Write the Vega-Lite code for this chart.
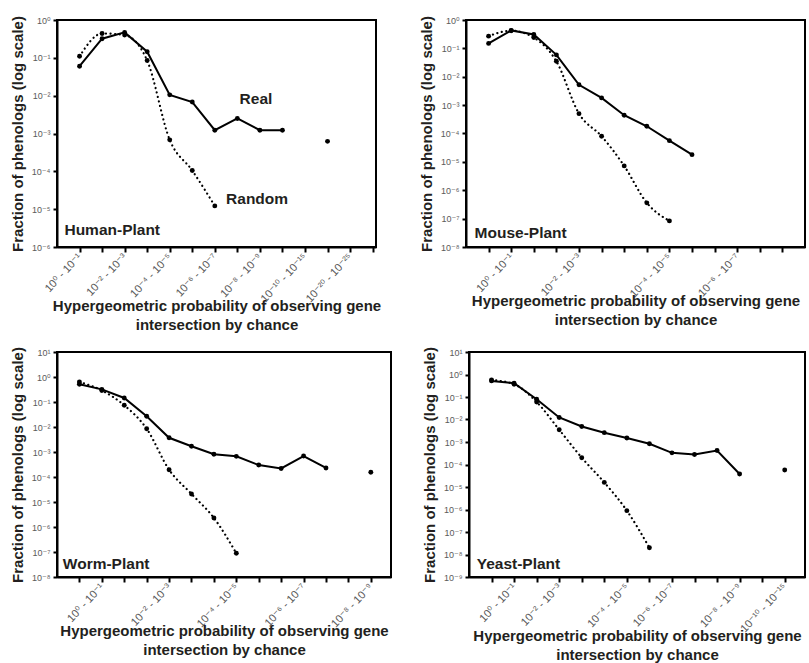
{
  "$schema": "https://vega.github.io/schema/vega-lite/v6.json",
  "background": "white",
  "padding": {"left": 9, "top": 14, "right": 5, "bottom": 3},
  "config": {
    "font": "Liberation Sans",
    "view": {"stroke": "black", "strokeWidth": 2},
    "axis": {
      "grid": false,
      "domainColor": "black",
      "domainWidth": 2,
      "tickColor": "black",
      "tickWidth": 2,
      "tickSize": 4,
      "labelFont": "Liberation Sans, DejaVu Sans",
      "labelFontSize": 9,
      "labelColor": "#5a5a5a",
      "labelPadding": 3,
      "labelOverlap": false,
      "labelFlush": false,
      "labelBound": false,
      "titleFont": "Liberation Sans",
      "titleFontSize": 15,
      "titleFontWeight": "bold",
      "titleColor": "#231f20"
    },
    "axisX": {"labelAngle": -47, "labelAlign": "right", "labelBaseline": "middle", "labelFontSize": 11, "labelPadding": 3, "titlePadding": -5, "titleLineHeight": 19, "tickSize": 5},
    "axisY": {"titlePadding": 6},
    "line": {"color": "black"},
    "point": {"color": "black", "filled": true, "opacity": 1, "size": 24},
    "text": {"color": "#231f20", "font": "Liberation Sans", "fontWeight": "bold", "fontSize": 15.5, "align": "left", "baseline": "middle"}
  },
  "datasets": {
    "human": [
      {"series": "Real", "seg": "a", "bin": 0, "frac": 0.06},
      {"series": "Real", "seg": "a", "bin": 1, "frac": 0.32},
      {"series": "Real", "seg": "a", "bin": 2, "frac": 0.47},
      {"series": "Real", "seg": "a", "bin": 3, "frac": 0.145},
      {"series": "Real", "seg": "a", "bin": 4, "frac": 0.0105},
      {"series": "Real", "seg": "a", "bin": 5, "frac": 0.0068},
      {"series": "Real", "seg": "a", "bin": 6, "frac": 0.00122},
      {"series": "Real", "seg": "a", "bin": 7, "frac": 0.0025},
      {"series": "Real", "seg": "a", "bin": 8, "frac": 0.00122},
      {"series": "Real", "seg": "a", "bin": 9, "frac": 0.00122},
      {"series": "Real", "seg": "b", "bin": 11, "frac": 0.00062},
      {"series": "Random", "seg": "r", "bin": 0, "frac": 0.11},
      {"series": "Random", "seg": "r", "bin": 1, "frac": 0.44},
      {"series": "Random", "seg": "r", "bin": 2, "frac": 0.40},
      {"series": "Random", "seg": "r", "bin": 3, "frac": 0.085},
      {"series": "Random", "seg": "r", "bin": 4, "frac": 0.00068},
      {"series": "Random", "seg": "r", "bin": 5, "frac": 0.000105},
      {"series": "Random", "seg": "r", "bin": 6, "frac": 0.0000122}
    ],
    "mouse": [
      {"series": "Real", "seg": "a", "bin": 0, "frac": 0.15},
      {"series": "Real", "seg": "a", "bin": 1, "frac": 0.43},
      {"series": "Real", "seg": "a", "bin": 2, "frac": 0.31},
      {"series": "Real", "seg": "a", "bin": 3, "frac": 0.059},
      {"series": "Real", "seg": "a", "bin": 4, "frac": 0.0052},
      {"series": "Real", "seg": "a", "bin": 5, "frac": 0.0018},
      {"series": "Real", "seg": "a", "bin": 6, "frac": 0.00044},
      {"series": "Real", "seg": "a", "bin": 7, "frac": 0.00018},
      {"series": "Real", "seg": "a", "bin": 8, "frac": 0.000056},
      {"series": "Real", "seg": "a", "bin": 9, "frac": 0.000018},
      {"series": "Random", "seg": "r", "bin": 0, "frac": 0.27},
      {"series": "Random", "seg": "r", "bin": 1, "frac": 0.42},
      {"series": "Random", "seg": "r", "bin": 2, "frac": 0.24},
      {"series": "Random", "seg": "r", "bin": 3, "frac": 0.035},
      {"series": "Random", "seg": "r", "bin": 4, "frac": 0.0005},
      {"series": "Random", "seg": "r", "bin": 5, "frac": 0.00008},
      {"series": "Random", "seg": "r", "bin": 6, "frac": 0.0000072},
      {"series": "Random", "seg": "r", "bin": 7, "frac": 0.00000036},
      {"series": "Random", "seg": "r", "bin": 8, "frac": 0.000000083}
    ],
    "worm": [
      {"series": "Real", "seg": "a", "bin": 0, "frac": 0.51},
      {"series": "Real", "seg": "a", "bin": 1, "frac": 0.32},
      {"series": "Real", "seg": "a", "bin": 2, "frac": 0.145},
      {"series": "Real", "seg": "a", "bin": 3, "frac": 0.027},
      {"series": "Real", "seg": "a", "bin": 4, "frac": 0.0037},
      {"series": "Real", "seg": "a", "bin": 5, "frac": 0.0017},
      {"series": "Real", "seg": "a", "bin": 6, "frac": 0.00081},
      {"series": "Real", "seg": "a", "bin": 7, "frac": 0.00067},
      {"series": "Real", "seg": "a", "bin": 8, "frac": 0.0003},
      {"series": "Real", "seg": "a", "bin": 9, "frac": 0.00022},
      {"series": "Real", "seg": "a", "bin": 10, "frac": 0.00069},
      {"series": "Real", "seg": "a", "bin": 11, "frac": 0.00023},
      {"series": "Real", "seg": "b", "bin": 13, "frac": 0.000155},
      {"series": "Random", "seg": "r", "bin": 0, "frac": 0.63},
      {"series": "Random", "seg": "r", "bin": 1, "frac": 0.29},
      {"series": "Random", "seg": "r", "bin": 2, "frac": 0.074},
      {"series": "Random", "seg": "r", "bin": 3, "frac": 0.0085},
      {"series": "Random", "seg": "r", "bin": 4, "frac": 0.000196},
      {"series": "Random", "seg": "r", "bin": 5, "frac": 0.000021},
      {"series": "Random", "seg": "r", "bin": 6, "frac": 0.0000023},
      {"series": "Random", "seg": "r", "bin": 7, "frac": 0.000000089}
    ],
    "yeast": [
      {"series": "Real", "seg": "a", "bin": 0, "frac": 0.52},
      {"series": "Real", "seg": "a", "bin": 1, "frac": 0.41},
      {"series": "Real", "seg": "a", "bin": 2, "frac": 0.08},
      {"series": "Real", "seg": "a", "bin": 3, "frac": 0.0123},
      {"series": "Real", "seg": "a", "bin": 4, "frac": 0.0049},
      {"series": "Real", "seg": "a", "bin": 5, "frac": 0.0026},
      {"series": "Real", "seg": "a", "bin": 6, "frac": 0.0015},
      {"series": "Real", "seg": "a", "bin": 7, "frac": 0.00083},
      {"series": "Real", "seg": "a", "bin": 8, "frac": 0.00033},
      {"series": "Real", "seg": "a", "bin": 9, "frac": 0.00028},
      {"series": "Real", "seg": "a", "bin": 10, "frac": 0.00042},
      {"series": "Real", "seg": "a", "bin": 11, "frac": 0.000038},
      {"series": "Real", "seg": "b", "bin": 13, "frac": 0.000057},
      {"series": "Random", "seg": "r", "bin": 0, "frac": 0.57},
      {"series": "Random", "seg": "r", "bin": 1, "frac": 0.37},
      {"series": "Random", "seg": "r", "bin": 2, "frac": 0.06},
      {"series": "Random", "seg": "r", "bin": 3, "frac": 0.0035},
      {"series": "Random", "seg": "r", "bin": 4, "frac": 0.0002},
      {"series": "Random", "seg": "r", "bin": 5, "frac": 0.000016},
      {"series": "Random", "seg": "r", "bin": 6, "frac": 0.00000089},
      {"series": "Random", "seg": "r", "bin": 7, "frac": 0.00000002}
    ],
    "notes": [
      {"panel": "human", "bin": -0.67, "frac": 0.0000028, "label": "Human-Plant"},
      {"panel": "human", "bin": 7.1, "frac": 0.008, "label": "Real"},
      {"panel": "human", "bin": 6.5, "frac": 0.000019, "label": "Random"},
      {"panel": "mouse", "bin": -0.62, "frac": 0.000000032, "label": "Mouse-Plant"},
      {"panel": "worm", "bin": -0.74, "frac": 0.000000034, "label": "Worm-Plant"},
      {"panel": "yeast", "bin": -0.66, "frac": 0.0000000039, "label": "Yeast-Plant"}
    ]
  },
  "spacing": 11,
  "vconcat": [
    {
      "spacing": 90,
      "bounds": "flush",
      "hconcat": [
        {
          "width": 319,
          "height": 227,
          "data": {"name": "human"},
          "encoding": {
            "x": {"field": "bin", "type": "quantitative",
              "scale": {"domain": [-1, 13.15], "nice": false, "zero": false},
              "axis": {"title": ["Hypergeometric probability of observing gene", "intersection by chance"],
                "values": [0,1,2,3,4,5,6,7,8,9,10,11,12,13],
                "labelExpr": "['10⁰ - 10⁻¹','','10⁻² - 10⁻³','','10⁻⁴ - 10⁻⁵','','10⁻⁶ - 10⁻⁷','','10⁻⁸ - 10⁻⁹','','10⁻¹⁰ - 10⁻¹⁵','','10⁻²⁰ - 10⁻²⁵',''][datum.value]"}},
            "y": {"field": "frac", "type": "quantitative",
              "scale": {"type": "log", "domain": [0.000001, 1], "nice": false},
              "axis": {"title": "Fraction of phenologs (log scale)",
                "values": [1, 0.1, 0.01, 0.001, 0.0001, 0.00001, 0.000001],
                "labelExpr": "'10' + (datum.value < 0.9 ? '⁻' : '') + ['⁰','¹','²','³','⁴','⁵','⁶','⁷','⁸','⁹'][abs(round(log(datum.value)/LN10))]"}}
          },
          "layer": [
            {"transform": [{"filter": "datum.series == 'Real'"}], "mark": {"type": "line", "strokeWidth": 2}, "encoding": {"detail": {"field": "seg"}}},
            {"transform": [{"filter": "datum.series == 'Random'"}], "mark": {"type": "line", "strokeWidth": 2.2, "strokeDash": [0.1, 4.5], "strokeCap": "round", "interpolate": "monotone"}, "encoding": {}},
            {"mark": {"type": "point"}},
            {"data": {"name": "notes"}, "transform": [{"filter": "datum.panel == 'human'"}], "mark": {"type": "text"}, "encoding": {"text": {"field": "label"}}}
          ]
        },
        {
          "width": 339,
          "height": 227,
          "data": {"name": "mouse"},
          "encoding": {
            "x": {"field": "bin", "type": "quantitative",
              "scale": {"domain": [-1, 14], "nice": false, "zero": false},
              "axis": {"title": ["Hypergeometric probability of observing gene", "intersection by chance"],
                "values": [0,1,2,3,4,5,6,7,8,9,10,11,12,13],
                "labelExpr": "['','10⁰ - 10⁻¹','','','10⁻² - 10⁻³','','','','10⁻⁴ - 10⁻⁵','','','10⁻⁶ - 10⁻⁷','',''][datum.value]"}},
            "y": {"field": "frac", "type": "quantitative",
              "scale": {"type": "log", "domain": [0.00000001, 1], "nice": false},
              "axis": {"title": "Fraction of phenologs (log scale)",
                "values": [1, 0.1, 0.01, 0.001, 0.0001, 0.00001, 0.000001, 0.0000001, 0.00000001],
                "labelExpr": "'10' + (datum.value < 0.9 ? '⁻' : '') + ['⁰','¹','²','³','⁴','⁵','⁶','⁷','⁸','⁹'][abs(round(log(datum.value)/LN10))]"}}
          },
          "layer": [
            {"transform": [{"filter": "datum.series == 'Real'"}], "mark": {"type": "line", "strokeWidth": 2}, "encoding": {"detail": {"field": "seg"}}},
            {"transform": [{"filter": "datum.series == 'Random'"}], "mark": {"type": "line", "strokeWidth": 2.2, "strokeDash": [0.1, 4.5], "strokeCap": "round", "interpolate": "monotone"}, "encoding": {}},
            {"mark": {"type": "point"}},
            {"data": {"name": "notes"}, "transform": [{"filter": "datum.panel == 'mouse'"}], "mark": {"type": "text"}, "encoding": {"text": {"field": "label"}}}
          ]
        }
      ]
    },
    {
      "spacing": 78,
      "bounds": "flush",
      "hconcat": [
        {
          "width": 334,
          "height": 225,
          "data": {"name": "worm"},
          "encoding": {
            "x": {"field": "bin", "type": "quantitative",
              "scale": {"domain": [-1, 13.9], "nice": false, "zero": false},
              "axis": {"title": ["Hypergeometric probability of observing gene", "intersection by chance"],
                "values": [0,1,2,3,4,5,6,7,8,9,10,11,12,13],
                "labelExpr": "['','10⁰ - 10⁻¹','','','10⁻² - 10⁻³','','','10⁻⁴ - 10⁻⁵','','','10⁻⁶ - 10⁻⁷','','','10⁻⁸ - 10⁻⁹'][datum.value]"}},
            "y": {"field": "frac", "type": "quantitative",
              "scale": {"type": "log", "domain": [0.00000001, 10], "nice": false},
              "axis": {"title": "Fraction of phenologs (log scale)",
                "values": [10, 1, 0.1, 0.01, 0.001, 0.0001, 0.00001, 0.000001, 0.0000001, 0.00000001],
                "labelExpr": "'10' + (datum.value < 0.9 ? '⁻' : '') + ['⁰','¹','²','³','⁴','⁵','⁶','⁷','⁸','⁹'][abs(round(log(datum.value)/LN10))]"}}
          },
          "layer": [
            {"transform": [{"filter": "datum.series == 'Real'"}], "mark": {"type": "line", "strokeWidth": 2}, "encoding": {"detail": {"field": "seg"}}},
            {"transform": [{"filter": "datum.series == 'Random'"}], "mark": {"type": "line", "strokeWidth": 2.2, "strokeDash": [0.1, 4.5], "strokeCap": "round", "interpolate": "monotone"}, "encoding": {}},
            {"mark": {"type": "point"}},
            {"data": {"name": "notes"}, "transform": [{"filter": "datum.panel == 'worm'"}], "mark": {"type": "text"}, "encoding": {"text": {"field": "label"}}}
          ]
        },
        {
          "width": 336,
          "height": 225,
          "data": {"name": "yeast"},
          "encoding": {
            "x": {"field": "bin", "type": "quantitative",
              "scale": {"domain": [-1, 13.9], "nice": false, "zero": false},
              "axis": {"title": ["Hypergeometric probability of observing gene", "intersection by chance"],
                "values": [0,1,2,3,4,5,6,7,8,9,10,11,12,13],
                "labelExpr": "['','10⁰ - 10⁻¹','','10⁻² - 10⁻³','','','10⁻⁴ - 10⁻⁵','','10⁻⁶ - 10⁻⁷','','','10⁻⁸ - 10⁻⁹','','10⁻¹⁰ - 10⁻¹⁵'][datum.value]"}},
            "y": {"field": "frac", "type": "quantitative",
              "scale": {"type": "log", "domain": [0.000000001, 10], "nice": false},
              "axis": {"title": "Fraction of phenologs (log scale)",
                "values": [10, 1, 0.1, 0.01, 0.001, 0.0001, 0.00001, 0.000001, 0.0000001, 0.00000001, 0.000000001],
                "labelExpr": "'10' + (datum.value < 0.9 ? '⁻' : '') + ['⁰','¹','²','³','⁴','⁵','⁶','⁷','⁸','⁹'][abs(round(log(datum.value)/LN10))]"}}
          },
          "layer": [
            {"transform": [{"filter": "datum.series == 'Real'"}], "mark": {"type": "line", "strokeWidth": 2}, "encoding": {"detail": {"field": "seg"}}},
            {"transform": [{"filter": "datum.series == 'Random'"}], "mark": {"type": "line", "strokeWidth": 2.2, "strokeDash": [0.1, 4.5], "strokeCap": "round", "interpolate": "monotone"}, "encoding": {}},
            {"mark": {"type": "point"}},
            {"data": {"name": "notes"}, "transform": [{"filter": "datum.panel == 'yeast'"}], "mark": {"type": "text"}, "encoding": {"text": {"field": "label"}}}
          ]
        }
      ]
    }
  ]
}
